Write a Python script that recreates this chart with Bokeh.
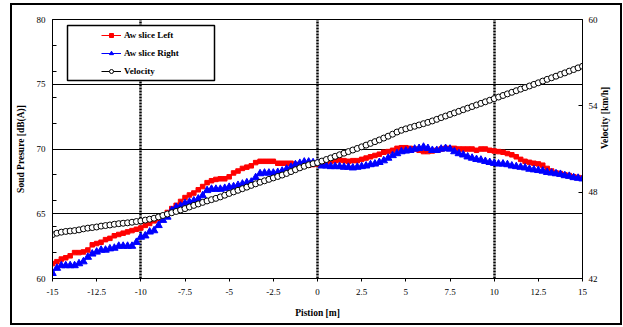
import math
from bokeh.plotting import figure
from bokeh.models import (Range1d, LinearAxis, FixedTicker, Legend, LegendItem,
                          BoxAnnotation, Node)
from bokeh.embed import file_html
from bokeh.resources import INLINE

# ---------------- data ----------------
position = [round(-15 + 0.25 * i, 2) for i in range(121)]

aw_slice_left = [
    61.15, 61.3, 61.5, 61.6, 61.75, 62.0, 62.0, 62.05, 62.2, 62.6,
    62.7, 62.8, 63.0, 63.1, 63.3, 63.4, 63.5, 63.6, 63.7, 63.8,
    63.9, 64.1, 64.25, 64.45, 64.6, 64.85, 65.1, 65.4, 65.65, 65.95,
    66.25, 66.45, 66.6, 66.85, 67.1, 67.4, 67.55, 67.65, 67.7, 67.7,
    67.85, 68.15, 68.3, 68.5, 68.6, 68.7, 68.95, 69.05, 69.05, 69.05,
    69.05, 68.9, 68.9, 68.9, 68.9, 68.8, 68.8, 68.75, 68.75, 68.8,
    68.85,
    68.9, 68.97, 69.05, 69.1, 69.15, 69.1, 69.05, 69.1, 69.1, 69.2,
    69.3, 69.4, 69.5, 69.6, 69.75, 69.8, 69.9, 70.05, 70.1, 70.1,
    70.05, 70.0, 69.9, 69.8, 69.8, 69.85, 69.9, 70.0, 70.05, 70.05,
    70.05, 70.0, 70.0, 70.0, 70.0, 69.9, 70.0, 70.0, 69.9, 69.85,
    69.8, 69.75, 69.65, 69.55, 69.4, 69.2, 69.05, 68.97, 68.9, 68.85,
    68.75, 68.5, 68.3, 68.15, 68.1, 68.0, 67.95, 67.85, 67.8, 67.75,
]

aw_slice_right = [
    60.4, 60.8, 61.0, 61.0, 61.0, 61.0, 61.15, 61.3, 61.65, 61.9,
    62.05, 62.2, 62.2, 62.3, 62.35, 62.5, 62.5, 62.5, 62.5, 62.8,
    63.2, 63.3, 63.6, 63.7, 64.1, 64.5, 64.75, 65.25, 65.5, 65.6,
    65.8, 65.9, 66.0, 66.15, 66.4, 66.8, 66.9, 66.9, 66.9, 66.97,
    67.05, 67.1, 67.2, 67.3, 67.4, 67.45, 67.8, 68.1, 68.15, 68.15,
    68.15, 68.2, 68.3, 68.45, 68.6, 68.8, 68.9, 69.0, 69.0, 68.95,
    68.9,
    68.7, 68.7, 68.65, 68.65, 68.65, 68.6, 68.6, 68.55, 68.6, 68.65,
    68.7, 68.8, 68.85, 68.97, 69.1, 69.3, 69.5, 69.65, 69.8, 69.85,
    69.9, 70.0, 70.05, 70.15, 70.05, 69.9, 69.9, 70.0, 70.05, 70.0,
    69.8, 69.65, 69.55, 69.4, 69.3, 69.2, 69.15, 69.05, 68.97, 68.9,
    68.85, 68.85, 68.8, 68.7, 68.65, 68.6, 68.55, 68.45, 68.4, 68.35,
    68.3, 68.2, 68.15, 68.1, 68.05, 67.95, 67.9, 67.8, 67.75, 67.7,
]

velocity = [
    45.05, 45.15, 45.22, 45.27, 45.30, 45.33, 45.38, 45.45, 45.50, 45.54,
    45.58, 45.64, 45.68, 45.72, 45.77, 45.81, 45.84, 45.87, 45.91, 45.96,
    46.00, 46.06, 46.12, 46.19, 46.28, 46.38, 46.48, 46.57, 46.66, 46.76,
    46.86, 46.97, 47.08, 47.18, 47.29, 47.39, 47.48, 47.57, 47.67, 47.79,
    47.91, 48.02, 48.13, 48.24, 48.35, 48.47, 48.58, 48.69, 48.79, 48.89,
    48.99, 49.09, 49.19, 49.30, 49.43, 49.56, 49.69, 49.80, 49.90, 49.98,
    50.05,
    50.16, 50.27, 50.38, 50.49, 50.60, 50.71, 50.82, 50.93, 51.04, 51.15,
    51.27, 51.39, 51.51, 51.63, 51.76, 51.89, 52.03, 52.18, 52.30, 52.40,
    52.49, 52.58, 52.67, 52.76, 52.85, 52.95, 53.06, 53.18, 53.29, 53.40,
    53.51, 53.62, 53.73, 53.84, 53.95, 54.06, 54.17, 54.28, 54.39, 54.50,
    54.61, 54.72, 54.83, 54.94, 55.05, 55.16, 55.27, 55.38, 55.49, 55.60,
    55.72, 55.84, 55.95, 56.06, 56.18, 56.29, 56.41, 56.52, 56.64, 56.75,
]

x_ticks = [-15, -12.5, -10, -7.5, -5, -2.5, 0, 2.5, 5, 7.5, 10, 12.5, 15]
x_tick_labels = ["-15", "-12.5", "-10", "-7.5", "-5", "-2.5", "0",
                 "2.5", "5", "7.5", "10", "12.5", "15"]
spl_ticks = [60, 65, 70, 75, 80]
spl_minor_ticks = [62, 64, 66, 68, 72, 74, 76, 78]
vel_ticks = [42, 48, 54, 60]
marker_positions = [-10, 0, 10]
spl_grid_levels = [65, 70, 75]

FONT = "Liberation Serif"

# ---------------- figure ----------------
p = figure(width=608, height=318, x_range=Range1d(-15, 15), y_range=Range1d(60, 80),
           output_backend="svg", toolbar_location=None,
           min_border_left=39, min_border_right=38, min_border_top=14, min_border_bottom=45)
p.margin = (5, 0, 0, 12)
p.styles = {"outline": "2px solid black", "margin": "5px 0px 0px 12px"}
p.extra_y_ranges = {"vel": Range1d(42, 60)}
p.background_fill_color = "white"
p.border_fill_color = "white"
p.outline_line_color = "black"
p.outline_line_width = 1

# grids
p.xgrid.ticker = FixedTicker(ticks=marker_positions)
p.xgrid.grid_line_color = "black"
p.xgrid.grid_line_width = 2.5
p.xgrid.grid_line_dash = "2 1"
p.ygrid.ticker = FixedTicker(ticks=spl_grid_levels)
p.ygrid.grid_line_color = "black"
p.ygrid.grid_line_width = 1

# axes
xa = p.xaxis[0]
xa.ticker = FixedTicker(ticks=x_ticks)
xa.major_label_overrides = dict(zip(x_ticks, x_tick_labels))
xa.major_tick_in = 0
xa.major_tick_out = 3
xa.minor_tick_line_color = None
xa.major_label_standoff = 7
xa.axis_label = "Pistion [m]"
xa.axis_label_standoff = 10

ya = p.yaxis[0]
ya.ticker = FixedTicker(ticks=spl_ticks, minor_ticks=spl_minor_ticks)
ya.major_tick_in = 4
ya.major_tick_out = 0
ya.minor_tick_in = 4
ya.minor_tick_out = 0
ya.major_label_standoff = 7
ya.axis_label = "Soud Presure [dB(A)]"
ya.axis_label_standoff = 8

ra = LinearAxis(y_range_name="vel")
ra.ticker = FixedTicker(ticks=vel_ticks)
ra.major_tick_in = 4
ra.major_tick_out = 0
ra.minor_tick_line_color = None
ra.major_label_standoff = 6
ra.axis_label = "Velocity [km/h]"
ra.axis_label_standoff = 4
ra.axis_label_orientation = math.pi / 2
p.add_layout(ra, "right")

for ax in (xa, ya, ra):
    ax.axis_line_color = "black"
    ax.major_tick_line_color = "black"
    ax.major_label_text_font = FONT
    ax.major_label_text_font_size = "9px"
    ax.major_label_text_color = "black"
    ax.axis_label_text_font = FONT
    ax.axis_label_text_font_style = "bold"
    ax.axis_label_text_font_size = "9.5px"
    ax.axis_label_text_color = "black"
ya.minor_tick_line_color = "black"

# series
r_line = p.line(position, aw_slice_left, line_color="red", line_width=1)
r_pts = p.scatter(position, aw_slice_left, marker="square", size=4.5,
                  fill_color="red", line_color="red")
b_line = p.line(position, aw_slice_right, line_color="blue", line_width=1)
b_pts = p.scatter(position, aw_slice_right, marker="triangle", size=7.5,
                  fill_color="blue", line_color="blue")
v_line = p.line(position, velocity, line_color="black", line_width=1, y_range_name="vel")
v_pts = p.scatter(position, velocity, marker="circle", size=6, fill_color="white",
                  line_color="black", line_width=1, y_range_name="vel")

# legend box + legend
legend_box = BoxAnnotation(
    left=Node(target="frame", symbol="left", offset=15),
    right=Node(target="frame", symbol="left", offset=162),
    top=Node(target="frame", symbol="top", offset=6),
    bottom=Node(target="frame", symbol="top", offset=61),
    fill_color="white", fill_alpha=1, line_color="black", line_width=1.5, line_alpha=1)
p.add_layout(legend_box)

legend = Legend(items=[
    LegendItem(label="Aw slice Left", renderers=[r_line, r_pts]),
    LegendItem(label="Aw slice Right", renderers=[b_line, b_pts]),
    LegendItem(label="Velocity", renderers=[v_line, v_pts]),
], location=(49, 198), padding=0, spacing=0, margin=0,
    label_height=18, glyph_height=10, glyph_width=20, label_standoff=3,
    border_line_alpha=0, background_fill_alpha=0,
    label_text_font=FONT, label_text_font_style="bold", label_text_font_size="9px",
    label_text_color="black")
p.add_layout(legend)

open("out.html", "w").write(file_html(p, INLINE))
